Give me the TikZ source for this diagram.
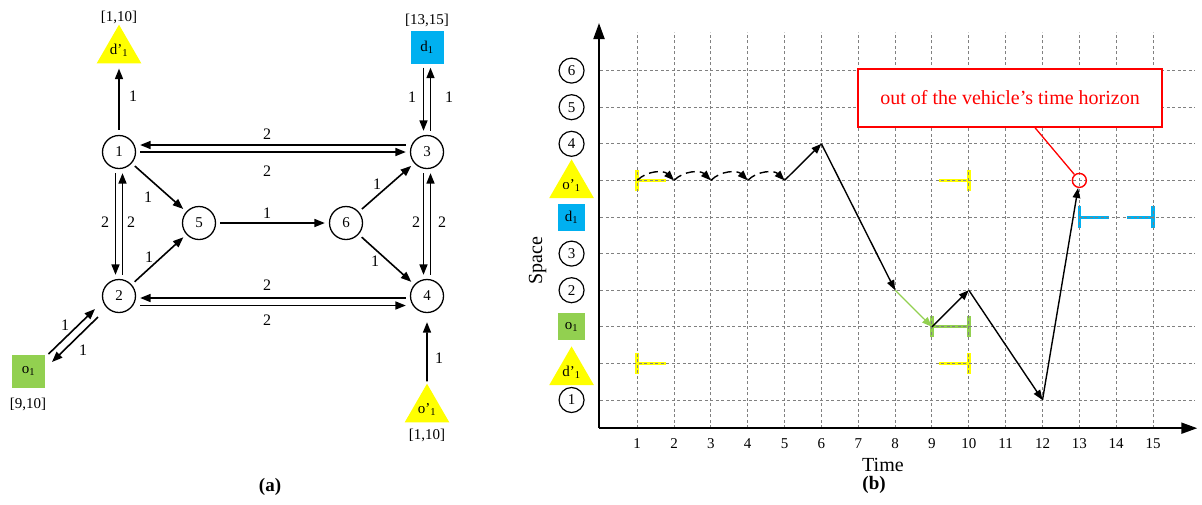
\documentclass[tikz,border=0pt]{standalone}
\usepackage{fontspec}
\setmainfont{Liberation Serif}
\usetikzlibrary{arrows.meta,shapes.geometric}

\definecolor{giallo}{RGB}{255,255,0}
\definecolor{azzurro}{RGB}{0,176,240}
\definecolor{verde}{RGB}{146,208,80}

\begin{document}
\begin{tikzpicture}[x=1pt,y=-1pt,font=\fontsize{15}{18}\selectfont]
\tikzstyle{arco} = [line width=1.6pt,-{Triangle[length=10.5pt,width=8pt]},shorten >=4pt,shorten <=4pt]
\tikzstyle{nodo} = [draw,circle,line width=1.3pt,minimum size=33pt,inner sep=0pt]
\tikzstyle{tri} = [regular polygon,regular polygon sides=3,fill=giallo,inner sep=0pt,minimum size=48pt]
\tikzstyle{quad} = [minimum size=33pt,inner sep=0pt]
\tikzstyle{peso} = [font=\fontsize{16}{18}\selectfont]
\useasboundingbox (0,0) rectangle (1202,504);

% (a) rete stradale
\node[nodo] (n1) at (119,152) {1};
\node[nodo] (n2) at (119,296) {2};
\node[nodo] (n3) at (427,152) {3};
\node[nodo] (n4) at (427,296) {4};
\node[nodo] (n5) at (199,223) {5};
\node[nodo] (n6) at (346,223) {6};
\node[tri] (dp) at (119,50.5) {d’\textsubscript{1}};
\node[quad,fill=azzurro] (d) at (427,47) {d\textsubscript{1}};
\node[quad,fill=verde] (o) at (28.5,371) {o\textsubscript{1}};
\node[tri] (op) at (427,409.5) {o’\textsubscript{1}};
\node (tw-dp) at (119,17) {[1,10]};
\node (tw-d) at (427,20) {[13,15]};
\node (tw-o) at (28,404) {[9,10]};
\node (tw-op) at (427,435) {[1,10]};

\draw[arco,shorten <=5pt,shorten >=5pt] (n1) -- (dp);
\draw[arco] ([xshift=-3.5pt]d.south) -- ([xshift=-3.5pt]n3.north);
\draw[arco] ([xshift=3.5pt]n3.north) -- ([xshift=3.5pt]d.south);
\draw[arco] ([yshift=7pt]n3.west) -- ([yshift=7pt]n1.east);
\draw[arco] (n1) -- (n3);
\draw[arco] ([xshift=-3.5pt]n1.south) -- ([xshift=-3.5pt]n2.north);
\draw[arco] ([xshift=3.5pt]n2.north) -- ([xshift=3.5pt]n1.south);
\draw[arco] ([xshift=-3.5pt]n3.south) -- ([xshift=-3.5pt]n4.north);
\draw[arco] ([xshift=3.5pt]n4.north) -- ([xshift=3.5pt]n3.south);
\draw[arco] (n1) -- (n5);
\draw[arco] (n2) -- (n5);
\draw[arco] (n5) -- (n6);
\draw[arco] (n6) -- (n3);
\draw[arco] (n6) -- (n4);
\draw[arco] ([yshift=-2pt]n4.west) -- ([yshift=-2pt]n2.east);
\draw[arco] ([yshift=-9.5pt]n2.east) -- ([yshift=-9.5pt]n4.west);
\draw[arco,shorten <=0pt,shorten >=0pt] ([shift={(20,-17)}]o.center) -- ([shift={(-24,13)}]n2.center);
\draw[arco,shorten <=0pt,shorten >=0pt] ([shift={(-21,21)}]n2.center) -- ([shift={(23.5,-9)}]o.center);
\draw[arco,shorten <=2pt,shorten >=9pt] (op) -- (n4);

% tempi di percorrenza
\foreach \x/\y/\w [count=\i] in {133/96/1,412/97/1,449/97/1,267/134/2,267/171/2,148/197/1,
  105/222/2,131/222/2,267/213/1,377/184/1,375/261/1,149/257/1,416/222/2,442/222/2,
  267/285/2,267/320/2,65/325/1,83/350/1,439/358/1}
  \node[peso] (w\i) at (\x,\y) {\w};

\node[font=\bfseries\fontsize{19}{22}\selectfont] (cap-a) at (270,487) {(a)};

% (b) diagramma spazio-tempo
\begin{scope}[xshift=600.3pt,yshift=-436.6pt,x=36.85pt,y=36.6pt]
\tikzstyle{griglia} = [gray,line width=1pt,dash pattern=on 3pt off 2.5pt]
\tikzstyle{asse} = [line width=2pt,-{Triangle[length=16pt,width=11pt]}]
\tikzstyle{finestra} = [line width=3pt]
\tikzstyle{tacca} = [line width=3.5pt]
\tikzstyle{nodino} = [draw,circle,line width=1.2pt,minimum size=25pt,inner sep=0pt]
\tikzstyle{trib} = [regular polygon,regular polygon sides=3,fill=giallo,inner sep=0pt,minimum size=46pt]
\tikzstyle{quadb} = [minimum size=27pt,inner sep=0pt]
\tikzstyle{tratto} = [line width=1.4pt,-{Triangle[length=10pt,width=7.5pt]}]
\tikzstyle{sosta} = [tratto,dash pattern=on 9pt off 5pt]

\foreach \t in {1,...,15} {\foreach \k in {1,...,10} {\coordinate (g\t-\k) at (\t,\k);}}

% finestre temporali
\foreach \k in {2,7} {
  \draw[finestra,giallo] (1,\k) -- (1.78,\k) (9.2,\k) -- (10,\k);
  \draw[tacca,giallo] (1,\k-0.29) -- (1,\k+0.29) (10,\k-0.29) -- (10,\k+0.29);
}
\draw[finestra,verde] (9,3) -- (10,3);
\draw[tacca,verde] (9,2.71) -- (9,3.29) (10,2.71) -- (10,3.29);
\draw[finestra,azzurro] (13,6) -- (13.8,6) (14.3,6) -- (15,6);
\draw[tacca,azzurro] (13,5.71) -- (13,6.29) (15,5.71) -- (15,6.29);

% griglia e assi
\foreach \t in {1,...,15} \draw[griglia] (\t,0.23) -- (\t,11.05);
\foreach \k in {1,...,10} \draw[griglia] (0,\k) -- (16.15,\k);
\coordinate (O) at (-0.035,0.23);
\coordinate (ytop) at (-0.035,11.3);
\coordinate (xend) at (16.2,0.23);
\draw[asse] (O) -- (ytop);
\draw[asse] (O) -- (xend);

\node[nodino] (s1) at (-0.78,1) {1};
\node[trib] (s2) at (-0.78,1.76) {d’\textsubscript{1}};
\node[quadb,fill=verde] (s3) at (-0.78,3) {o\textsubscript{1}};
\node[nodino] (s4) at (-0.78,4) {2};
\node[nodino] (s5) at (-0.78,5) {3};
\node[quadb,fill=azzurro] (s6) at (-0.78,6) {d\textsubscript{1}};
\node[trib] (s7) at (-0.78,6.87) {o’\textsubscript{1}};
\node[nodino] (s8) at (-0.78,8) {4};
\node[nodino] (s9) at (-0.78,9) {5};
\node[nodino] (s10) at (-0.78,10) {6};
\foreach \t in {1,...,15} \node (tk\t) at (\t,-0.18) {\t};

\node[font=\fontsize{20}{24}\selectfont,rotate=90] (spazio) at (-1.7,4.8) {Space};
\node[font=\fontsize{20}{24}\selectfont] (tempo) at (7.67,-0.78) {Time};
\node[font=\bfseries\fontsize{19}{22}\selectfont] (cap-b) at (7.43,-1.32) {(b)};

% percorso del veicolo
\foreach \t [count=\s from 2] in {1,...,4}
  \draw[sosta] (g\t-7) to[bend left=45] (g\s-7);
\draw[tratto] (g5-7) -- (g6-8);
\draw[tratto] (g6-8) -- (g8-4);
\draw[tratto,verde,line width=1.2pt] (g8-4) -- (g9-3);
\draw[tratto] (g9-3) -- (g10-4);
\draw[tratto] (g10-4) -- (g12-1);
\node[draw=red,circle,line width=1.4pt,minimum size=14pt,inner sep=0pt] (fuori) at (g13-7) {};
\draw[tratto] (g12-1) -- (fuori);
\node[draw=red,line width=1.5pt,fill=white,text=red,minimum width=304pt,minimum height=58pt,
  inner sep=0pt,font=\fontsize{20}{24}\selectfont] (nota) at (11.12,9.25) {out of the vehicle’s time horizon};
\draw[red,line width=1.3pt] ([xshift=25pt]nota.south) -- (fuori);
\end{scope}
\end{tikzpicture}
\end{document}
